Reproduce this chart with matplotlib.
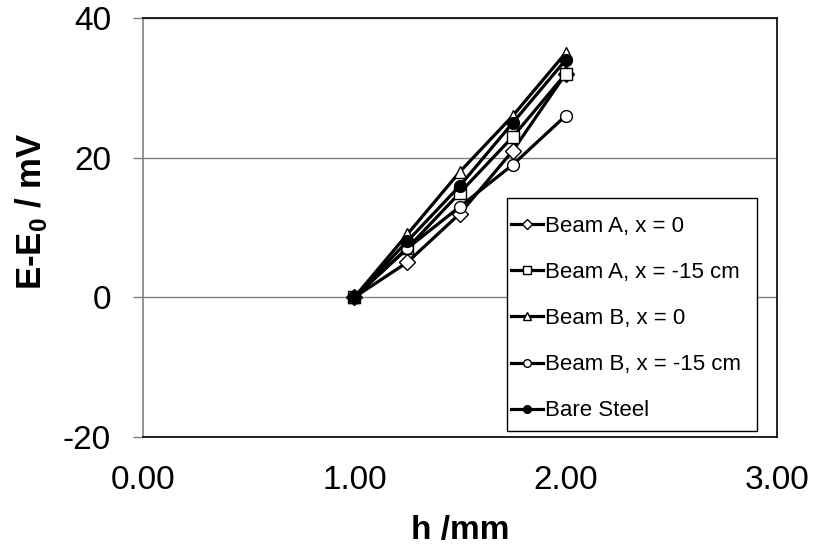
import matplotlib
matplotlib.use("Agg")
import matplotlib.pyplot as plt
from matplotlib.patches import Rectangle

h = [1.00, 1.25, 1.50, 1.75, 2.00]
beam_a_0 = [0, 5, 12, 21, 32]
beam_a_15 = [0, 7, 15, 23, 32]
beam_b_0 = [0, 9, 18, 26, 35]
beam_b_15 = [0, 7, 13, 19, 26]
bare = [0, 8, 16, 25, 34]
labels = ["Beam A, x = 0", "Beam A, x = -15 cm", "Beam B, x = 0",
          "Beam B, x = -15 cm", "Bare Steel"]
xticks = [0.0, 1.0, 2.0, 3.0]
yticks = [-20, 0, 20, 40]

plt.rcParams['font.family'] = ['Liberation Sans', 'DejaVu Sans']
plt.rcParams['axes.unicode_minus'] = False
plt.rcParams['mathtext.fontset'] = 'custom'
plt.rcParams['mathtext.rm'] = 'Liberation Sans'
plt.rcParams['mathtext.bf'] = 'Liberation Sans:bold'

W, H = 814, 550
fig = plt.figure(figsize=(W/100, H/100), dpi=100)
L, R, T, B = 143, 777, 18, 437
ax = fig.add_axes([L/W, 1-B/H, (R-L)/W, (B-T)/H])

def ax_x(px):
    return (px - L) / (R - L)

def ax_y(py):
    return 1 - (py - T) / (B - T)

series = [beam_a_0, beam_a_15, beam_b_0, beam_b_15, bare]
markers = ['D', 's', '^', 'o', 'o']
msizes = [8, 8, 8.5, 8.5, 8.5]
faces = ['white', 'white', 'white', 'white', 'black']
for ys, m, ms, fc, lab in zip(series, markers, msizes, faces, labels):
    ax.plot(h, ys, color='black', lw=2.3, marker=m, ms=ms, mfc=fc,
            mec='black', mew=1.0, label=lab)

ax.set_xlim(0, 3)
ax.set_ylim(-20, 40)
ax.set_xticks(xticks)
ax.set_xticklabels([f"{v:.2f}" for v in xticks])
ax.set_yticks(yticks)
ax.yaxis.grid(True, color='#808080', lw=1)
ax.set_axisbelow(True)

for s in ['top', 'right', 'bottom']:
    ax.spines[s].set_color('black')
    ax.spines[s].set_linewidth(1.2)
ax.spines['left'].set_color('#808080')
ax.spines['left'].set_linewidth(1.2)

ax.tick_params(axis='y', direction='out', length=7, width=1, color='#808080',
               labelsize=24, pad=16)
ax.tick_params(axis='x', length=0, labelsize=24, pad=20)

ax.set_xlabel("h /mm", fontsize=24, fontweight='bold', labelpad=14)
ax.set_ylabel(r"E-E$_\mathbf{0}$ / mV", fontsize=25, fontweight='bold')
ax.yaxis.set_label_coords(ax_x(49), ax_y(211))

# legend frame drawn as a box, legend entries on top
frame = Rectangle((ax_x(507), ax_y(431)), (757-507)/(R-L), (431-198)/(B-T),
                  transform=ax.transAxes, facecolor='white', edgecolor='black',
                  lw=1.0, zorder=4.9, clip_on=False)
ax.add_patch(frame)
leg = ax.legend(loc='upper left', bbox_to_anchor=(ax_x(506.5), ax_y(211.5)),
                fontsize=16, frameon=False, borderpad=0.2, labelspacing=1.13,
                handlelength=1.45, handletextpad=0.1, markerscale=0.65,
                borderaxespad=0)
leg.set_zorder(5)

fig.savefig("out.png", dpi=100)
